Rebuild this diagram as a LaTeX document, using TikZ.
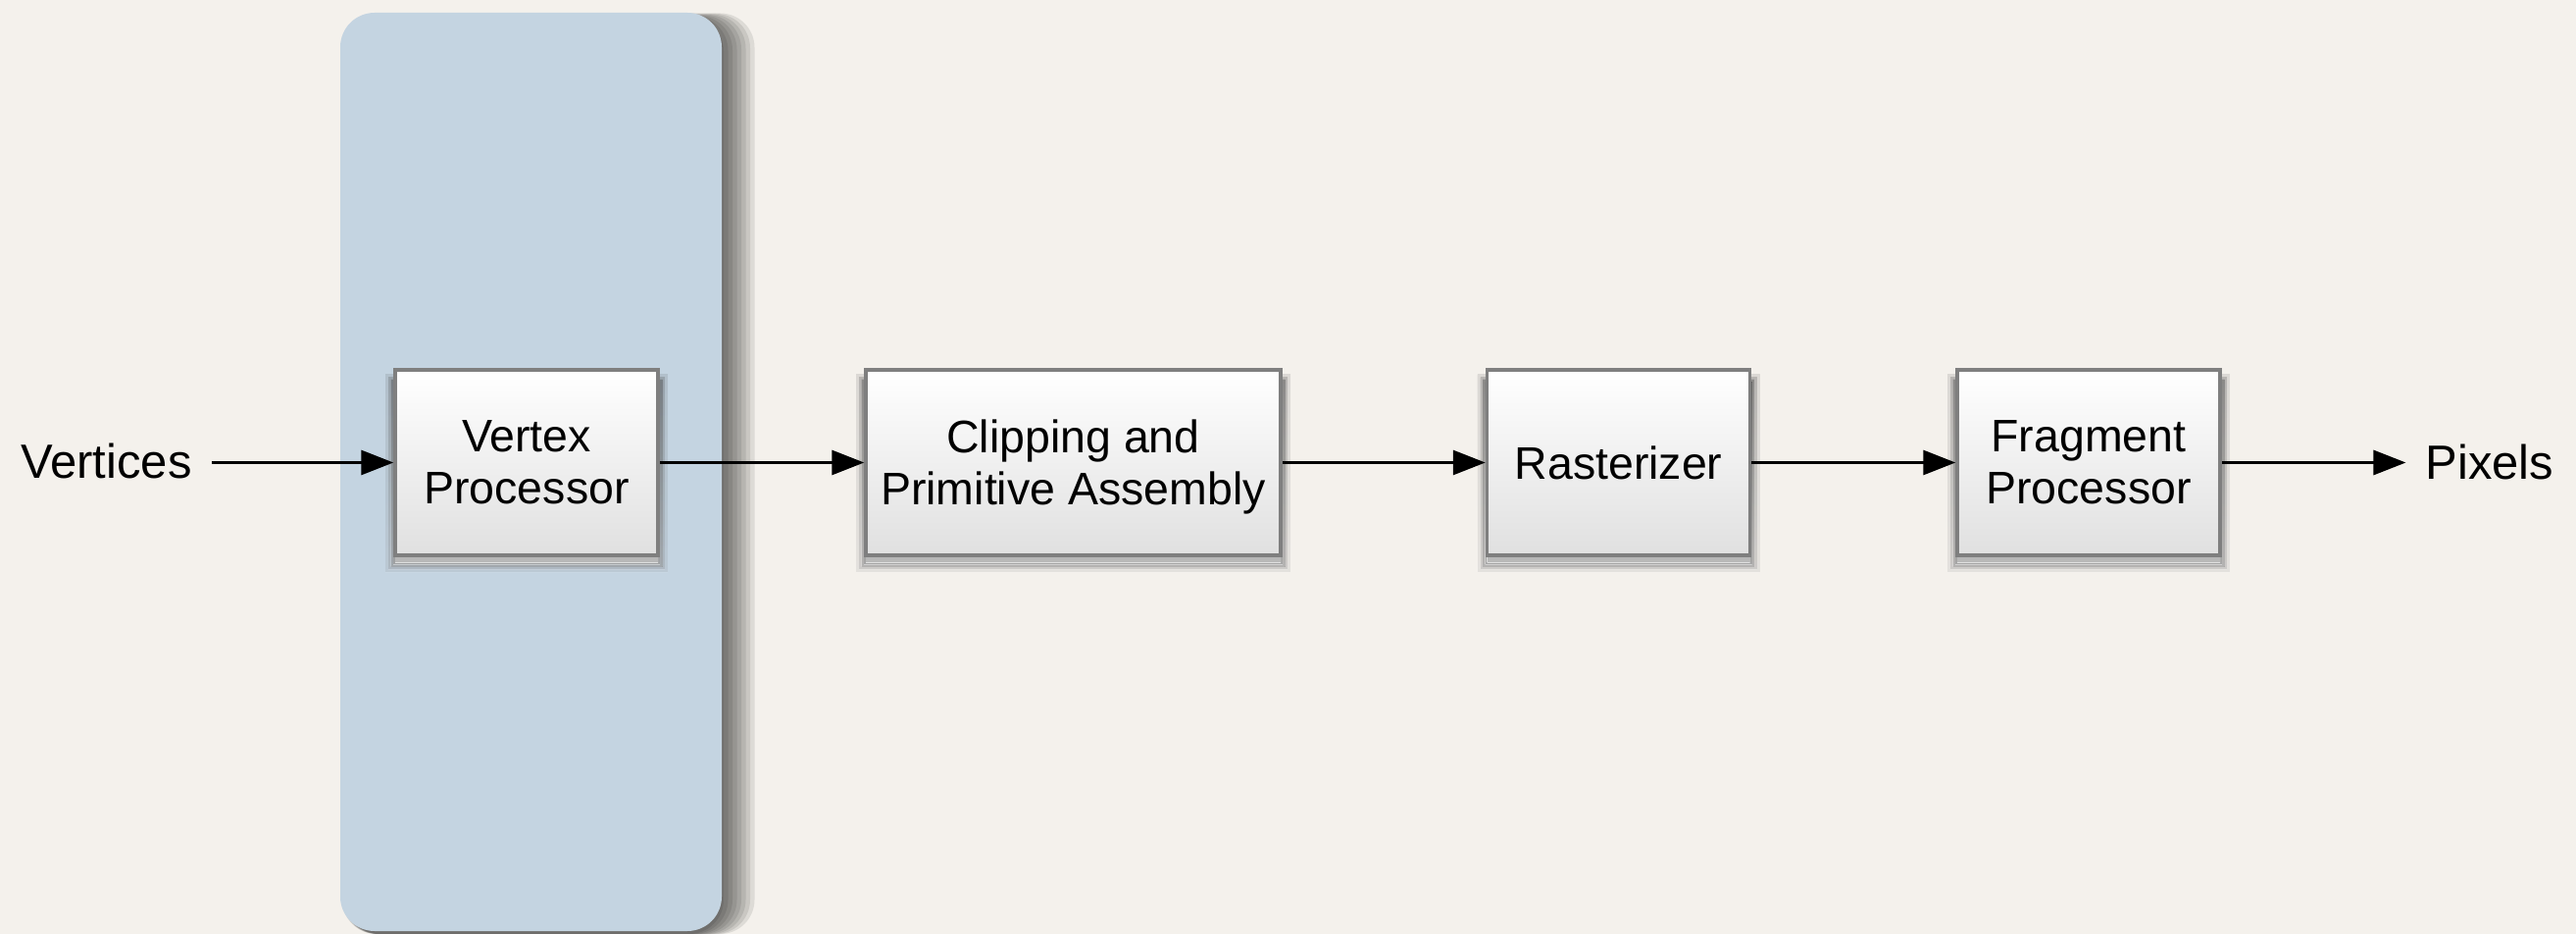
\documentclass[tikz,border=0pt]{standalone}
\usepackage{fontspec}
\setmainfont{Liberation Sans}
\usetikzlibrary{arrows.meta}
\definecolor{bg}{HTML}{F4F1EC}
\definecolor{panel}{HTML}{C4D4E1}
\definecolor{boxborder}{HTML}{7F7F7F}
\definecolor{boxbot}{HTML}{E0E0E0}
\definecolor{shade}{HTML}{2E3338}
\begin{document}
\begin{tikzpicture}[x=1pt,y=-1pt,
  stage/.style={draw=boxborder, line width=3.5pt, top color=white, bottom color=boxbot,
    minimum width=268pt, minimum height=189pt, align=center, inner sep=0pt,
    font=\fontsize{46.5}{53}\selectfont},
  lbl/.style={font=\fontsize{49}{53}\selectfont, inner sep=0pt, anchor=base},
  flow/.style={line width=3pt, -{Triangle[length=33pt,width=25pt]}},
  panelshadow/.style={fill=black, opacity=0.09, rounded corners=35pt}
]
\useasboundingbox (0,0) rectangle (2627,952);
\fill[bg] (0,0) rectangle (2627,952);
% panel shadow
\foreach \k in {0,...,7} {
  \fill[panelshadow] (349+\k*0.5,17-\k*0.5) rectangle (738+\k*4.5,952);
}
\fill[panel, rounded corners=35pt] (347,13) rectangle (736,949);
% box shadows
\foreach \cx/\w in {537/268, 1094.5/423, 1650.5/268, 2130/268} {
  \foreach \k/\op in {10/0.07, 7/0.12, 4.5/0.22, 2/0.4, 0/0.65} {
    \fill[shade, opacity=\op] (\cx-\w/2-\k, 377+14-\k) rectangle (\cx+\w/2+\k, 566+7+\k);
  }
}

\node[stage] (vp) at (537,471.5) {Vertex\\Processor};
\node[stage, minimum width=423pt] (cpa) at (1094.5,471.5) {Clipping and\\Primitive Assembl\smash{y}};
\node[stage] (ras) at (1650.5,471.5) {Rasterizer};
\node[stage] (frag) at (2130,471.5) {Fragment\\Processor};
\node[lbl] (vin) at (108.5,487) {Vertices};
\node[lbl] (pout) at (2539,488) {Pixels};

\draw[flow, shorten <=20pt] (vin.east |- vp.west) -- (vp.west);
\draw[flow] (vp) -- (cpa);
\draw[flow] (cpa) -- (ras);
\draw[flow] (ras) -- (frag);
\draw[flow, shorten >=20pt] (frag.east) -- (pout.west |- frag.east);
\end{tikzpicture}
\end{document}
